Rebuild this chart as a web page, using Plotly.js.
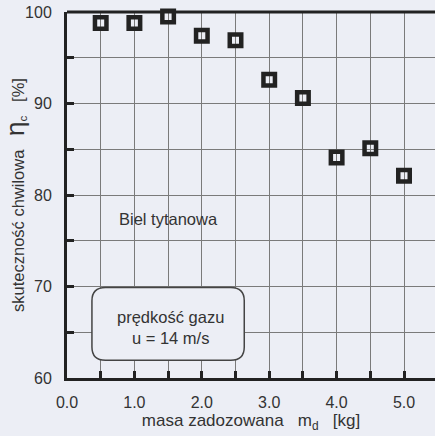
<!DOCTYPE html>
<html>
<head>
<meta charset="utf-8">
<script src="https://cdn.plot.ly/plotly-3.0.1.min.js"></script>
<style>html,body{margin:0;padding:0;overflow:hidden;background:#eceef5;}</style>
</head>
<body>
<div id="chart" style="width:435px;height:436px;"></div>
<script>
const massKg = [0.5, 1.0, 1.5, 2.0, 2.5, 3.0, 3.5, 4.0, 4.5, 5.0];
const efficiency = [98.8, 98.8, 99.5, 97.4, 96.9, 92.6, 90.6, 84.1, 85.1, 82.1];
const xTickVals = [0, 1, 2, 3, 4, 5];
const xTickText = ["0.0", "1.0", "2.0", "3.0", "4.0", "5.0"];
const yTickVals = [60, 70, 80, 90, 100];
const yTickText = ["60", "70", "80", "90", "100"];

const bg = "#eceef5";
const ink = "#222222";
const gridCol = "#7a7a7a";

const trace = {
  x: massKg, y: efficiency, type: "scatter", mode: "markers",
  marker: {symbol: "square-open", size: 11.5, color: ink, line: {width: 4.5, color: ink}},
  cliponaxis: false, hoverinfo: "skip"
};

// rounded box (data coords)
const bx0 = 0.37, bx1 = 2.63, by0 = 61.95, by1 = 69.9, rx = 0.2, ry = 1.45;
const boxPath = `M ${bx0+rx},${by1} L ${bx1-rx},${by1} Q ${bx1},${by1} ${bx1},${by1-ry} L ${bx1},${by0+ry} Q ${bx1},${by0} ${bx1-rx},${by0} L ${bx0+rx},${by0} Q ${bx0},${by0} ${bx0},${by0+ry} L ${bx0},${by1-ry} Q ${bx0},${by1} ${bx0+rx},${by1} Z`;

const layout = {
  width: 435, height: 436,
  margin: {l: 67, r: 0, t: 12, b: 58},
  paper_bgcolor: bg, plot_bgcolor: bg,
  showlegend: false,
  font: {family: "Liberation Sans, Arial, sans-serif", color: "#333333", size: 16},
  xaxis: {
    range: [0, 5.46], tickvals: xTickVals, ticktext: xTickText,
    showgrid: true, gridcolor: gridCol, gridwidth: 1,
    ticks: "inside", ticklen: 7, tickwidth: 3, tickcolor: ink,
    showline: true, linecolor: ink, linewidth: 3, zeroline: false,
    minor: {tickvals: [0.5,1.5,2.5,3.5,4.5,5.5], showgrid: true, gridcolor: gridCol, gridwidth: 1, ticks: "inside", ticklen: 7, tickwidth: 3, tickcolor: ink},
    tickfont: {size: 16, color: "#333"},
    ticklabelstandoff: 8,
    title: {text: "masa zadozowana   m<sub>d</sub>   [kg]", font: {size: 17, color: "#333"}, standoff: 0}
  },
  yaxis: {
    range: [60, 100], tickvals: yTickVals, ticktext: yTickText,
    showgrid: true, gridcolor: gridCol, gridwidth: 1,
    ticks: "inside", ticklen: 7, tickwidth: 3, tickcolor: ink,
    showline: true, linecolor: ink, linewidth: 3, zeroline: false,
    minor: {tickvals: [65,75,85,95], showgrid: true, gridcolor: gridCol, gridwidth: 1, ticks: "inside", ticklen: 7, tickwidth: 3, tickcolor: ink},
    tickfont: {size: 16, color: "#333"},
    ticklabelstandoff: 9,
    title: {text: "skuteczność chwilowa   <span style=\"font-size:26px\">η</span><sub>c</sub>   [%]", font: {size: 16.5, color: "#333"}, standoff: 3}
  },
  shapes: [
    {type: "line", xref: "paper", yref: "paper", x0: 0, x1: 1, y0: 1, y1: 1, line: {color: ink, width: 3}},
    {type: "path", xref: "x", yref: "y", path: boxPath, fillcolor: bg, line: {color: "#444", width: 1.5}, layer: "above"}
  ],
  annotations: [
    {x: 1.5, y: 77.4, xref: "x", yref: "y", text: "Biel tytanowa", showarrow: false, font: {size: 16.5, color: "#333"}},
    {x: 1.53, y: 65.5, xref: "x", yref: "y", text: "prędkość gazu<br>u = 14 m/s", showarrow: false, font: {size: 16.5, color: "#333"}}
  ]
};

Plotly.newPlot("chart", [trace], layout, {displayModeBar: false, staticPlot: true});
</script>
</body>
</html>
